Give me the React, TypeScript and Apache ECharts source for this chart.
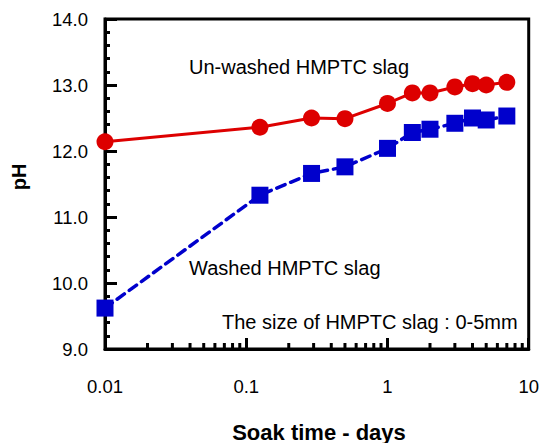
import React, { useEffect, useRef } from "react";
import * as echarts from "echarts";

const soakDays = [0.01, 0.125, 0.29, 0.5, 1, 1.5, 2, 3, 4, 5, 7];
const unwashedPH = [12.14, 12.36, 12.5, 12.49, 12.72, 12.88, 12.88, 12.97, 13.02, 13.0, 13.04];
const washedPH = [9.62, 11.33, 11.66, 11.76, 12.04, 12.28, 12.33, 12.42, 12.5, 12.47, 12.53];
const xMinorTicks = [
  0.02, 0.03, 0.04, 0.05, 0.06, 0.07, 0.08, 0.09,
  0.2, 0.3, 0.4, 0.5, 0.6, 0.7, 0.8, 0.9,
  2, 3, 4, 5, 6, 7, 8, 9,
];
const xTickLabels: Record<string, string> = { "0.01": "0.01", "0.1": "0.1", "1": "1", "10": "10" };

const FONT = "'Liberation Sans', Arial, sans-serif";

export default function App() {
  const ref = useRef<HTMLDivElement>(null);
  useEffect(() => {
    if (!ref.current) return;
    const chart = echarts.init(ref.current, undefined, { renderer: "svg" });
    const red = "#DD0000";
    const blue = "#0000CC";
    chart.setOption({
      animation: false,
      backgroundColor: "#ffffff",
      grid: {
        left: 105,
        right: 12,
        top: 19,
        bottom: 94,
        show: true,
        borderColor: "#000",
        borderWidth: 3,
        backgroundColor: "transparent",
      },
      xAxis: {
        type: "log",
        logBase: 10,
        min: 0.01,
        max: 10,
        interval: 1,
        axisLine: { show: true, onZero: false, lineStyle: { color: "#000", width: 3 } },
        axisTick: { show: true, inside: true, length: 11, lineStyle: { color: "#000", width: 3 } },
        minorTick: { show: false },
        splitLine: { show: false },
        axisLabel: {
          color: "#000",
          fontSize: 18.5,
          fontFamily: FONT,
          margin: 28,
          formatter: (v: number) => {
            const key = String(+Number(v).toPrecision(3));
            return xTickLabels[key] ?? key;
          },
        },
      },
      yAxis: {
        type: "value",
        min: 9,
        max: 14,
        interval: 1,
        axisLine: { show: true, onZero: false, lineStyle: { color: "#000", width: 3 } },
        axisTick: { show: true, inside: true, length: 12, lineStyle: { color: "#000", width: 3 } },
        minorTick: { show: true, splitNumber: 5, length: 5, lineStyle: { color: "#000", width: 3 } },
        splitLine: { show: false },
        minorSplitLine: { show: false },
        axisLabel: {
          color: "#000",
          fontSize: 18.5,
          fontFamily: FONT,
          margin: 17,
          formatter: (v: number) => v.toFixed(1),
        },
      },
      series: [
        {
          type: "custom",
          silent: true,
          clip: false,
          data: xMinorTicks.map((v) => [v, 9]),
          encode: { x: 0, y: 1 },
          renderItem: (params: any, api: any) => {
            const p = api.coord([api.value(0), api.value(1)]);
            return {
              type: "line",
              shape: { x1: p[0], y1: p[1], x2: p[0], y2: p[1] - 6 },
              style: { stroke: "#000", lineWidth: 3 },
            };
          },
          z: 1,
        },
        {
          type: "line",
          name: "Washed HMPTC slag",
          data: soakDays.map((d, i) => [d, washedPH[i]]),
          symbol: "rect",
          symbolSize: 17,
          itemStyle: { color: blue },
          lineStyle: { color: blue, width: 3.5, type: [9, 6], cap: "round" },
          clip: false,
          z: 3,
        },
        {
          type: "line",
          name: "Un-washed HMPTC slag",
          data: soakDays.map((d, i) => [d, unwashedPH[i]]),
          symbol: "circle",
          symbolSize: 17,
          itemStyle: { color: red },
          lineStyle: { color: red, width: 3 },
          clip: false,
          z: 4,
        },
      ],
      graphic: [
        {
          type: "text",
          x: 189,
          y: 67,
          style: {
            text: "Un-washed HMPTC slag",
            fill: "#000",
            font: `20px ${FONT}`,
            align: "left",
            verticalAlign: "middle",
          },
        },
        {
          type: "text",
          x: 189,
          y: 268,
          style: {
            text: "Washed HMPTC slag",
            fill: "#000",
            font: `20px ${FONT}`,
            align: "left",
            verticalAlign: "middle",
          },
        },
        {
          type: "text",
          x: 222,
          y: 322,
          style: {
            text: "The size of HMPTC slag : 0-5mm",
            fill: "#000",
            font: `20px ${FONT}`,
            align: "left",
            verticalAlign: "middle",
          },
        },
        {
          type: "text",
          x: 319,
          y: 432,
          style: {
            text: "Soak time - days",
            fill: "#000",
            font: `bold 22px ${FONT}`,
            align: "center",
            verticalAlign: "middle",
          },
        },
        {
          type: "text",
          x: 19,
          y: 177,
          rotation: Math.PI / 2,
          style: {
            text: "pH",
            fill: "#000",
            font: `bold 20px ${FONT}`,
            align: "center",
            verticalAlign: "middle",
          },
        },
      ],
    });
    return () => chart.dispose();
  }, []);
  return (
    <div
      ref={ref}
      style={{ position: "absolute", left: 0, top: 0, width: 542, height: 443 }}
    />
  );
}
